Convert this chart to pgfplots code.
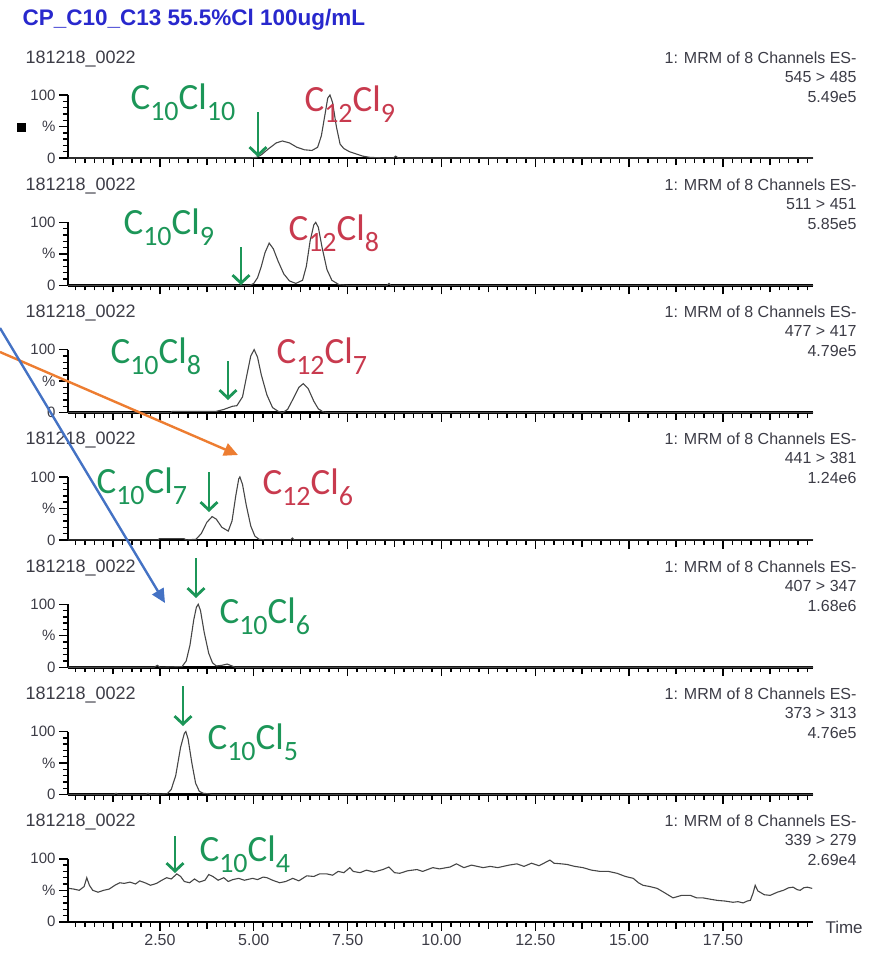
\documentclass[border=0pt]{standalone}
\usepackage{pgfplots}
\pgfplotsset{compat=1.18}
\usepackage{fontspec}
\setmainfont{Liberation Sans}
\newfontfamily\calibri{Carlito}
\usetikzlibrary{arrows.meta}

\definecolor{cgreen}{RGB}{28,150,88}
\definecolor{cred}{RGB}{200,58,78}
\definecolor{ctitle}{RGB}{40,40,205}
\definecolor{ctext}{RGB}{60,60,70}
\definecolor{ctrace}{RGB}{70,70,70}
\definecolor{corange}{RGB}{237,125,49}
\definecolor{cblue}{RGB}{68,114,196}

% formula C_a Cl_b with lowered subscripts
\newcommand{\cf}[2]{C\raisebox{-0.3em}{\fontsize{28}{28}\selectfont #1}Cl\raisebox{-0.3em}{\fontsize{28}{28}\selectfont #2}}

\pgfplotsset{
  panel/.style={
    anchor=south west, scale only axis, width=745pt, height=63pt,
    xmin=0.05, xmax=19.9, ymin=0, ymax=100,
    axis x line*=bottom, axis y line*=left,
    x axis line style={line width=2.6pt},
    y axis line style={line width=2pt},
    tick align=outside,
    xtick={2.5,5,...,17.5}, xticklabels={},
    minor xtick={0.25,0.5,...,19.75},
    extra x ticks={1.25,3.75,...,18.75}, extra x tick labels={},
    extra x tick style={major tick length=7pt},
    major tick length=9pt, minor tick length=5pt,
    ytick={0,50,100}, yticklabels={0,\%,100},
    minor ytick={10,20,30,40,60,70,80,90},
    every tick/.style={black, line width=1.4pt},
    yticklabel style={font=\fontsize{15}{15}\selectfont, text=ctext},
    clip=false,
  },
  trace/.style={ctrace, line width=1.1pt, no markers},
}

% run label and channel text for a panel whose baseline is at #1 (pt below top)
\newcommand{\paneltext}[3]{%
  \node[anchor=base west, font=\fontsize{18}{18}\selectfont, text=ctext] at (22pt,{(95-#1)*1pt}) {181218\_0022};
  \node[anchor=base east, font=\fontsize{16}{16}\selectfont, text=ctext] at (860pt,{(95-#1)*1pt}) {1: MRM of 8 Channels ES-};
  \node[anchor=base east, font=\fontsize{16}{16}\selectfont, text=ctext] at (860pt,{(76-#1)*1pt}) {#2};
  \node[anchor=base east, font=\fontsize{16}{16}\selectfont, text=ctext] at (860pt,{(56-#1)*1pt}) {#3};
}
\newcommand{\garrow}[3]{\draw[cgreen, line width=2.8pt, -{Straight Barb[length=8pt,width=17pt]}] (#1pt,-#2pt) -- (#1pt,-#3pt);}

\begin{document}
\begin{tikzpicture}
\useasboundingbox (0pt,0pt) rectangle (883pt,-954pt);

\node[anchor=base west, font=\bfseries\fontsize{22.5}{22.5}\selectfont, text=ctitle] at (19pt,-25pt) {CP\_C10\_C13 55.5\%Cl 100ug/mL};

% panel 1: 545 > 485
\begin{axis}[panel, at={(68pt,-158pt)}]
\addplot[trace] coordinates {
(0.05,0)(4.9,0)(5.07,1)(5.2,5)(5.4,15)(5.6,24)(5.76,27)(5.95,24)(6.15,17)(6.35,13)(6.55,12)
(6.7,17)(6.8,35)(6.9,70)(6.97,95)(7.03,100)(7.1,88)(7.2,50)(7.3,22)(7.4,15)(7.55,10)(7.7,7)
(7.9,3)(8.1,1)(8.5,0)(8.72,0)(8.78,3)(8.85,0)(19.9,0)};
\end{axis}
% panel 2: 511 > 451
\begin{axis}[panel, at={(68pt,-285.3pt)}]
\addplot[trace] coordinates {
(0.05,0)(4.9,0)(5.0,3)(5.1,12)(5.2,30)(5.3,52)(5.41,67)(5.52,58)(5.65,38)(5.8,18)(5.95,7)
(6.12,3)(6.3,8)(6.4,30)(6.5,70)(6.6,96)(6.65,100)(6.72,92)(6.82,60)(6.95,25)(7.08,8)(7.27,1)
(7.5,0)(8.55,0)(8.6,3)(8.65,0)(19.9,0)};
\end{axis}
% panel 3: 477 > 417
\begin{axis}[panel, at={(68pt,-412.6pt)}]
\addplot[trace] coordinates {
(0.05,0)(2.8,0)(2.82,2)(4.0,2)(4.2,5)(4.43,10)(4.55,11)(4.7,25)(4.8,55)(4.92,90)(5.01,100)
(5.1,88)(5.2,60)(5.35,28)(5.5,8)(5.65,2)(5.77,0)(5.9,5)(6.05,22)(6.2,40)(6.32,46)(6.45,38)
(6.6,18)(6.72,6)(6.85,1)(7.0,0)(19.9,0)};
\end{axis}
% panel 4: 441 > 381
\begin{axis}[panel, at={(68pt,-539.9pt)}]
\addplot[trace] coordinates {
(0.05,0)(2.46,0)(2.48,2)(3.14,2)(3.2,0)(3.46,1)(3.6,10)(3.75,28)(3.89,37)(4.0,33)(4.15,20)
(4.32,14)(4.42,30)(4.52,70)(4.6,97)(4.63,100)(4.7,88)(4.8,55)(4.92,22)(5.03,6)(5.14,1)
(5.3,0)(5.98,0)(6.03,3)(6.08,0)(19.9,0)};
\end{axis}
% panel 5: 407 > 347
\begin{axis}[panel, at={(68pt,-667.2pt)}]
\addplot[trace] coordinates {
(0.05,0)(2.35,0)(2.43,3)(2.5,0)(3.09,1)(3.2,10)(3.3,35)(3.4,75)(3.47,95)(3.52,100)(3.58,90)
(3.68,55)(3.8,22)(3.9,7)(4.0,2)(4.15,3)(4.29,5)(4.42,2)(4.5,0)(19.9,0)};
\end{axis}
% panel 6: 373 > 313
\begin{axis}[panel, at={(68pt,-794.5pt)}]
\addplot[trace] coordinates {
(0.05,0)(1.28,0)(1.33,2)(1.38,0)(2.13,0)(2.18,2)(2.23,0)(2.69,1)(2.8,8)(2.92,30)(3.05,75)
(3.15,97)(3.19,100)(3.25,88)(3.35,50)(3.45,18)(3.55,5)(3.65,2)(3.8,1)(3.9,0)(19.9,0)};
\end{axis}
% panel 7: 339 > 279
\begin{axis}[panel, at={(68pt,-921.8pt)},
  xticklabels={2.50,5.00,7.50,10.00,12.50,15.00,17.50},
  xticklabel style={font=\fontsize{16}{16}\selectfont, text=ctext}]
\addplot[trace] coordinates {
(0.08,53)(0.2,52)(0.35,50)(0.48,56)(0.55,70)(0.62,58)(0.71,50)(0.85,47)(1.0,50)(1.15,52)
(1.3,58)(1.43,62)(1.55,61)(1.7,63)(1.85,60)(1.96,65)(2.1,62)(2.25,58)(2.41,61)(2.55,66)
(2.68,70)(2.8,68)(2.95,76)(3.05,72)(3.15,64)(3.29,62)(3.42,68)(3.55,63)(3.7,66)(3.8,75)
(3.91,72)(4.05,66)(4.2,70)(4.32,64)(4.44,67)(4.6,69)(4.75,66)(4.97,69)(5.1,67)(5.25,71)
(5.35,70)(5.5,66)(5.69,62)(5.85,64)(6.04,69)(6.2,65)(6.41,73)(6.6,72)(6.75,76)(6.95,76)
(7.1,74)(7.25,80)(7.4,78)(7.56,86)(7.65,80)(7.83,78)(8.0,82)(8.2,79)(8.44,83)(8.6,87)
(8.75,78)(8.89,77)(9.1,81)(9.35,83)(9.5,80)(9.77,86)(9.95,84)(10.23,87)(10.4,92)(10.6,86)
(10.8,90)(11.11,86)(11.3,88)(11.5,86)(11.8,90)(12.01,92)(12.2,88)(12.4,93)(12.6,89)(12.89,98)
(13.0,93)(13.2,92)(13.35,91)(13.55,88)(13.77,86)(14.0,82)(14.23,80)(14.45,80)(14.68,77)(14.9,72)
(15.11,69)(15.25,62)(15.37,58)(15.55,56)(15.75,53)(15.95,46)(16.17,38)(16.4,42)(16.63,42)(16.8,38)
(16.97,38)(17.15,36)(17.35,34)(17.55,33)(17.77,31)(17.9,32)(18.04,30)(18.15,33)(18.23,34)(18.3,45)
(18.36,58)(18.43,49)(18.49,47)(18.6,43)(18.76,42)(18.95,47)(19.11,50)(19.25,54)(19.37,55)(19.48,51)
(19.56,50)(19.65,54)(19.75,55)(19.88,53)};
\end{axis}

\paneltext{158}{545 > 485}{5.49e5}
\paneltext{285.3}{511 > 451}{5.85e5}
\paneltext{412.6}{477 > 417}{4.79e5}
\paneltext{539.9}{441 > 381}{1.24e6}
\paneltext{667.2}{407 > 347}{1.68e6}
\paneltext{794.5}{373 > 313}{4.76e5}
\paneltext{921.8}{339 > 279}{2.69e4}
\fill[black] (17pt,-123pt) rectangle (26pt,-132pt);
\node[anchor=base west, font=\fontsize{17}{17}\selectfont, text=ctext] at (822pt,-933pt) {Time};

% annotations
\begin{scope}[every node/.style={anchor=base west, font=\calibri\fontsize{37}{37}\selectfont}]
\node[text=cgreen] at (127pt,-109pt) {\cf{10}{10}};
\node[text=cred] at (301pt,-111pt) {\cf{12}{9}};
\node[text=cgreen] at (120pt,-234pt) {\cf{10}{9}};
\node[text=cred] at (285pt,-240pt) {\cf{12}{8}};
\node[text=cgreen] at (107pt,-363pt) {\cf{10}{8}};
\node[text=cred] at (273pt,-363pt) {\cf{12}{7}};
\node[text=cgreen] at (93pt,-493pt) {\cf{10}{7}};
\node[text=cred] at (259pt,-494pt) {\cf{12}{6}};
\node[text=cgreen] at (216pt,-623pt) {\cf{10}{6}};
\node[text=cgreen] at (204pt,-749pt) {\cf{10}{5}};
\node[text=cgreen] at (196pt,-861pt) {\cf{10}{4}};
\end{scope}
\garrow{258}{112}{157}
\garrow{241}{247}{285}
\garrow{228}{361}{400}
\garrow{209}{472}{512}
\garrow{196}{558}{598}
\garrow{183}{686}{726}
\garrow{175}{836}{873}
\draw[corange, line width=2.4pt, -{Triangle[length=14pt,width=13pt]}] (0pt,-352pt) -- (238pt,-455pt);
\draw[cblue, line width=2.4pt, -{Triangle[length=14pt,width=13pt]}] (0pt,-328pt) -- (165pt,-603pt);
\end{tikzpicture}
\end{document}
